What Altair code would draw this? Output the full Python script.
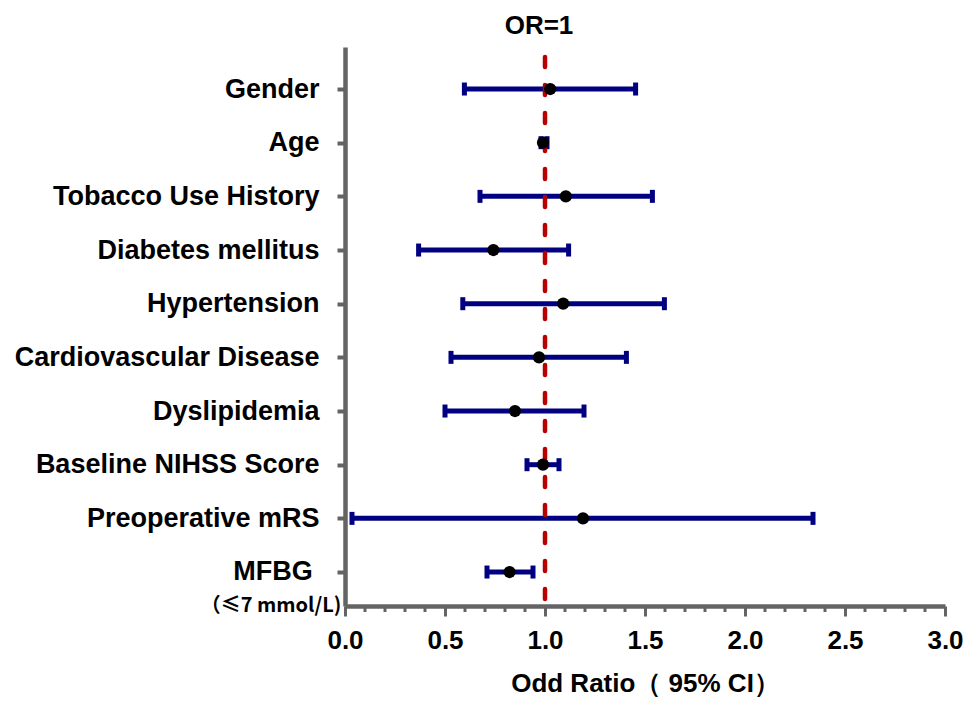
import altair as alt
import pandas as pd

categories = ["Gender", "Age", "Tobacco Use History", "Diabetes mellitus", "Hypertension",
              "Cardiovascular Disease", "Dyslipidemia", "Baseline NIHSS Score",
              "Preoperative mRS", "MFBG"]
odds = [1.026, 0.99, 1.104, 0.742, 1.091, 0.97, 0.85, 0.99, 1.19, 0.823]
lower = [0.597, 0.98, 0.675, 0.368, 0.589, 0.53, 0.50, 0.91, 0.035, 0.71]
upper = [1.453, 1.01, 1.537, 1.118, 1.597, 1.407, 1.195, 1.07, 2.34, 0.94]
major_ticks = [0.0, 0.5, 1.0, 1.5, 2.0, 2.5, 3.0]
minor_ticks = [round(i / 10, 1) for i in range(31) if i % 5 != 0]
ref_value = [1.0]
mfbg_sub = "（≤7 mmol/L)"

FONT = "Liberation Sans, Arial, sans-serif"
GRAY = "#646464"
NAVY = "#000080"
RED = "#b80000"
H = 559

df = pd.DataFrame({"cat": categories, "or": odds, "lo": lower, "hi": upper})
ref = pd.DataFrame({"x": ref_value, "label": ["OR=1"]})
mfbg = pd.DataFrame({"cat": ["MFBG"], "t1": ["MFBG"], "t2": [mfbg_sub]})
minor = pd.DataFrame({"x": minor_ticks})

x_scale = alt.Scale(domain=[0, 3], nice=False, zero=False)
y_scale = alt.Scale(type="point", padding=0.708, align=0.553)

x_axis = alt.Axis(
    values=major_ticks, format=".1f",
    title="Odd Ratio（ 95% CI）",
    labelFont=FONT, labelFontSize=26, labelFontWeight="bold", labelColor="black",
    labelPadding=11, labelOverlap=False, labelFlush=False, labelBound=False,
    titleFont=FONT, titleFontSize=26, titleFontWeight="bold", titleColor="black",
    titlePadding=17,
    domainColor=GRAY, domainWidth=4.5, tickColor=GRAY, tickWidth=3, tickSize=10,
    grid=False,
)
y_axis = alt.Axis(
    title=None,
    labelExpr="datum.value == 'MFBG' ? '' : datum.value",
    labelFont=FONT, labelFontSize=27, labelFontWeight="bold", labelColor="black",
    labelPadding=18, labelLimit=400,
    domainColor=GRAY, domainWidth=4.5, tickColor=GRAY, tickWidth=4, tickSize=8,
    grid=False,
)

base = alt.Chart(df)
ysort = alt.Y("cat:N", sort=categories, scale=y_scale, axis=y_axis)

bars = base.mark_rule(color=NAVY, strokeWidth=5).encode(
    x=alt.X("lo:Q", scale=x_scale, axis=x_axis), x2="hi:Q", y=ysort
)
minor_marks = alt.Chart(minor).mark_rule(color=GRAY, strokeWidth=3).encode(
    x="x:Q", y=alt.value(H), y2=alt.value(H + 6)
)
caps_lo = base.mark_tick(color=NAVY, thickness=5, size=13, opacity=1).encode(
    x=alt.X("lo:Q"), y=ysort
)
caps_hi = base.mark_tick(color=NAVY, thickness=5, size=13, opacity=1).encode(
    x=alt.X("hi:Q"), y=ysort
)
refline = alt.Chart(ref).mark_rule(
    color=RED, strokeWidth=4.5, strokeDash=[10, 18], strokeCap="round", strokeDashOffset=-10
).encode(x="x:Q")
reftext = alt.Chart(ref).mark_text(
    font=FONT, fontSize=26, fontWeight="bold", color="black", dx=-6, baseline="middle"
).encode(x="x:Q", y=alt.value(-21), text="label:N")
points = base.mark_point(filled=True, color="black", size=150, opacity=1).encode(
    x="or:Q", y=ysort
)
mfbg1 = alt.Chart(mfbg).mark_text(
    font=FONT, fontSize=27, fontWeight="bold", color="black", align="center", baseline="middle"
).encode(x=alt.value(-72), y=alt.Y("cat:N", sort=categories), text="t1:N")
mfbg2 = alt.Chart(mfbg).mark_text(
    font="Noto Sans CJK SC", fontSize=20, fontWeight="bold", color="black",
    align="center", baseline="middle", dy=34
).encode(x=alt.value(-74), y=alt.Y("cat:N", sort=categories), text="t2:N")

chart = alt.layer(bars, minor_marks, caps_lo, caps_hi, refline, points, reftext, mfbg1, mfbg2).properties(
    width=600, height=H,
    autosize=alt.AutoSizeParams(type="none"),
    padding={"left": 337, "top": 39, "right": 19, "bottom": 93},
).configure_view(stroke=None)

chart.save("out.html", embed_options={"renderer": "svg", "actions": False})
